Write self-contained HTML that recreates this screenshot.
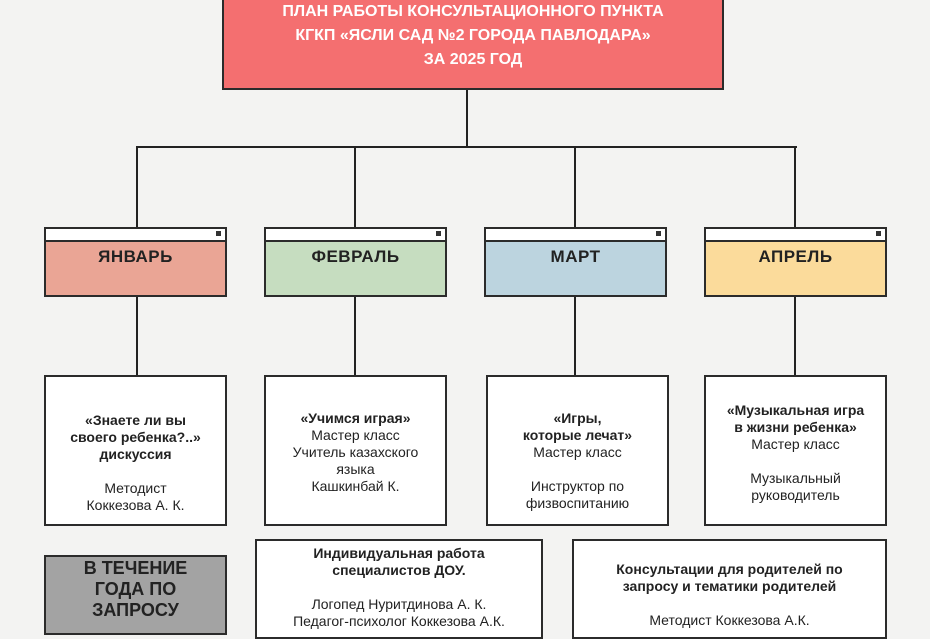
<!DOCTYPE html>
<html><head><meta charset="utf-8"><style>
body{margin:0;width:930px;height:620px;overflow:hidden;background:#f3f3f2;font-family:"Liberation Sans",sans-serif;position:relative}
.a{position:absolute;box-sizing:border-box}
.ln{position:absolute;background:#222}
.b{border:2px solid #2b2b2b;text-align:center;display:flex;flex-direction:column;justify-content:flex-start;align-items:center;color:#222;font-size:14px;line-height:17px}
.m{font-weight:bold;font-size:17px;letter-spacing:0.5px;justify-content:center}
.hd{position:absolute;left:0;right:0;top:0;height:11px;background:#fff;border-bottom:2px solid #2b2b2b}
.sq{position:absolute;right:4px;top:2px;width:5px;height:5px;background:#333}
b{font-weight:bold}
</style></head><body>
<div class="a b" style="left:222px;top:-3px;width:502px;height:93px;background:#f46f70;color:#fff;font-weight:bold;font-size:16px;line-height:24px;padding-top:1px">ПЛАН РАБОТЫ КОНСУЛЬТАЦИОННОГО ПУНКТА<br>КГКП «ЯСЛИ САД №2 ГОРОДА ПАВЛОДАРА»<br>ЗА 2025 ГОД</div>
<div class="ln" style="left:466px;top:90px;width:2px;height:58px"></div>
<div class="ln" style="left:136px;top:146px;width:661px;height:2px"></div>
<div class="ln" style="left:136px;top:146px;width:2px;height:82px"></div>
<div class="ln" style="left:354px;top:146px;width:2px;height:82px"></div>
<div class="ln" style="left:574px;top:146px;width:2px;height:82px"></div>
<div class="ln" style="left:794px;top:146px;width:2px;height:82px"></div>
<div class="ln" style="left:136px;top:296px;width:2px;height:80px"></div>
<div class="ln" style="left:354px;top:296px;width:2px;height:80px"></div>
<div class="ln" style="left:574px;top:296px;width:2px;height:80px"></div>
<div class="ln" style="left:794px;top:296px;width:2px;height:80px"></div>

<div class="a b m" style="left:44px;top:227px;width:183px;height:70px;background:#eaa595;padding-bottom:12px"><div class="hd"><div class="sq"></div></div>ЯНВАРЬ</div>
<div class="a b m" style="left:264px;top:227px;width:183px;height:70px;background:#c6ddc0;padding-bottom:12px"><div class="hd"><div class="sq"></div></div>ФЕВРАЛЬ</div>
<div class="a b m" style="left:484px;top:227px;width:183px;height:70px;background:#bcd4df;padding-bottom:12px"><div class="hd"><div class="sq"></div></div>МАРТ</div>
<div class="a b m" style="left:704px;top:227px;width:183px;height:70px;background:#fbdb9b;padding-bottom:12px"><div class="hd"><div class="sq"></div></div>АПРЕЛЬ</div>

<div class="a b" style="left:44px;top:375px;width:183px;height:151px;background:#fff;padding-top:35px"><b>«Знаете ли вы<br>своего ребенка?..»<br>дискуссия</b><br>Методист<br>Коккезова А. К.</div>
<div class="a b" style="left:264px;top:375px;width:183px;height:151px;background:#fff;padding-top:33px"><b>«Учимся играя»</b>Мастер класс<br>Учитель казахского<br>языка<br>Кашкинбай К.</div>
<div class="a b" style="left:486px;top:375px;width:183px;height:151px;background:#fff;padding-top:33px"><b>«Игры,<br>которые лечат»</b>Мастер класс<br><br>Инструктор по<br>физвоспитанию</div>
<div class="a b" style="left:704px;top:375px;width:183px;height:151px;background:#fff;padding-top:25px"><b>«Музыкальная игра<br>в жизни ребенка»</b>Мастер класс<br><br>Музыкальный<br>руководитель</div>

<div class="a b" style="left:44px;top:555px;width:183px;height:80px;background:#a3a3a3;font-weight:bold;font-size:18px;line-height:21px;padding-top:1px">В ТЕЧЕНИЕ<br>ГОДА ПО<br>ЗАПРОСУ</div>
<div class="a b" style="left:255px;top:539px;width:288px;height:100px;background:#fff;padding-top:4px"><b>Индивидуальная работа<br>специалистов ДОУ.</b><br>Логопед Нуритдинова А. К.<br>Педагог-психолог Коккезова А.К.</div>
<div class="a b" style="left:572px;top:539px;width:315px;height:100px;background:#fff;padding-top:20px"><b>Консультации для родителей по<br>запросу и тематики родителей</b><br>Методист Коккезова А.К.</div>
</body></html>
